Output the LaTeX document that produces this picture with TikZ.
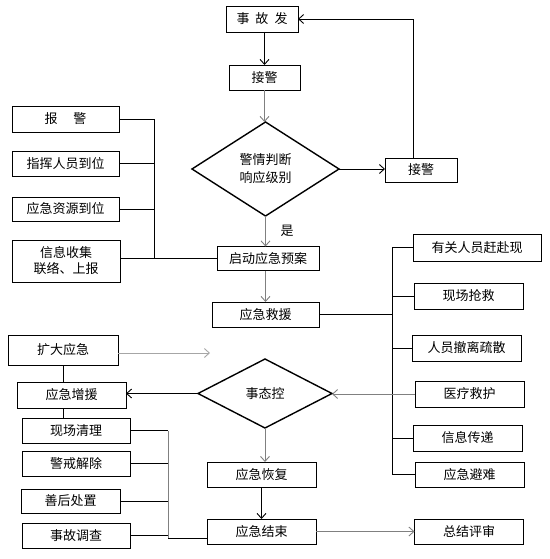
\documentclass[tikz,border=0pt]{standalone}
\usepackage{fontspec}
\newfontfamily\cjk{Noto Sans CJK SC}
\usetikzlibrary{shapes.geometric,arrows.meta}
\colorlet{linegray}{black!50}
\begin{document}
\begin{tikzpicture}[x=1pt, y=-1pt, line width=0.9pt,
                    main node/.style = {draw, rectangle, inner sep=0pt, outer sep=0pt, minimum height=26pt, minimum width=109pt, font=\cjk\fontsize{13}{16}\selectfont},
                    judge node/.style = {draw, diamond, inner sep=0pt, outer sep=0pt, line width=1.4pt, align=center, font=\cjk\fontsize{13}{18}\selectfont},
                    arrow/.style = {-{Straight Barb[length=5pt, width=9pt]}},
                    grey line/.style = {draw=linegray}]
                    \useasboundingbox (0, 0) rectangle (549, 559);
                    % main column
                    \node at (262, 19) [main node, minimum width=72pt] (accident) {事\hspace{6pt}故\hspace{6pt}发};
                    \node at (264.5, 77.5) [main node, minimum width=71pt, minimum height=25pt] (receive) {接警};
                    \node at (265.5, 169) [judge node, minimum width=147pt, minimum height=94pt] (judge) {警情判断\\响应级别};
                    \node at (421, 170) [main node, minimum width=72pt, minimum height=24pt] (receive2) {接警};
                    \node at (287, 231) [font=\cjk\fontsize{13}{16}\selectfont, inner sep=0pt] (yes) {是};
                    \node at (268, 258.5) [main node, minimum width=102pt, minimum height=24pt] (plan) {启动应急预案};
                    \node at (265.5, 314.5) [main node, minimum width=107pt, minimum height=25pt] (rescue) {应急救援};
                    \node at (265, 393.5) [judge node, minimum width=134pt, minimum height=69pt] (control) {事态控};
                    \node at (261.5, 474.5) [main node, minimum height=25pt] (recover) {应急恢复};
                    \node at (261.5, 531.5) [main node, minimum height=25pt] (finish) {应急结束};
                    \node at (469, 531.5) [main node, minimum height=25pt] (summary) {总结评审};

                    % left, upper
                    \node at (65.5, 119) [main node, minimum width=107pt] (report) {报\hspace{16pt}警};
                    \node at (65.5, 163.5) [main node, minimum width=107pt, minimum height=25pt] (command) {指挥人员到位};
                    \node at (65.5, 209) [main node, minimum width=107pt, minimum height=24pt] (resource) {应急资源到位};
                    \node at (66, 261) [main node, minimum width=108pt, minimum height=42pt, align=center] (info) {信息收集\\联络、上报};

                    % right column
                    \node at (477, 247.5) [main node, minimum width=128pt, minimum height=27pt] (arrive) {有关人员赶赴现};
                    \node at (468.5, 296) [main node] (firstaid) {现场抢救};
                    \node at (466.5, 348) [main node] (evacuate) {人员撤离疏散};
                    \node at (469.5, 394) [main node] (medical) {医疗救护};
                    \node at (467.5, 438) [main node] (message) {信息传递};
                    \node at (469.5, 474.5) [main node, minimum height=25pt] (shelter) {应急避难};

                    % left, lower
                    \node at (63, 350) [main node, minimum width=110pt, minimum height=30pt] (expand) {扩大应急};
                    \node at (71.5, 395) [main node] (reinforce) {应急增援};
                    \node at (76, 430.5) [main node, minimum width=108pt, minimum height=25pt] (cleanup) {现场清理};
                    \node at (76, 463.5) [main node, minimum width=108pt, minimum height=25pt] (lift) {警戒解除};
                    \node at (70.5, 501) [main node, minimum width=99pt, minimum height=24pt] (aftermath) {善后处置};
                    \node at (76, 535.5) [main node, minimum width=108pt, minimum height=25pt] (investigate) {事故调查};

                    \coordinate (lbar) at (154, 0);
                    \coordinate (rbar) at (392, 0);
                    \coordinate (loop) at (413, 0);
                    \coordinate (bend) at (168, 538);
                    \coordinate (expandtip) at (210, 353);

                    \draw [arrow] (accident.south -| receive) -- (receive.north);
                    \draw [arrow, grey line] (receive.south) -- (receive.south |- judge.north);
                    \draw [arrow] (judge.east) -- (judge.east -| receive2.west);
                    \draw [arrow] (receive2.north -| loop) |- (accident.east);
                    \draw [arrow, grey line] (judge.south) -- (judge.south |- plan.north);
                    \draw [arrow, grey line] (rescue.north |- plan.south) -- (rescue.north);

                    \draw (report.east) -| (lbar |- plan.west);
                    \draw (command.east) -- (command.east -| lbar);
                    \draw (resource.east) -- (resource.east -| lbar);
                    \draw (info.east |- plan.west) -- (plan.west);

                    \draw (arrive.west) -| (rbar |- shelter.west) -- (shelter.west);
                    \draw (rescue.east) -- (rescue.east -| rbar);
                    \draw (firstaid.west) -- (firstaid.west -| rbar);
                    \draw (evacuate.west) -- (evacuate.west -| rbar);
                    \draw (message.west) -- (message.west -| rbar);
                    \draw [arrow, grey line] (medical.west) -- (medical.west -| control.east);

                    \draw [arrow, draw=black!35] (expand.east |- expandtip) -- (expandtip);
                    \draw (expand.south) -- (expand.south |- reinforce.north);
                    \draw (expand.south |- reinforce.south) -- (expand.south |- cleanup.north);
                    \draw [arrow] (control.west) -- (control.west -| reinforce.east);
                    \draw [arrow, grey line] (control.south) -- (control.south |- recover.north);
                    \draw [arrow] (recover) -- (finish);
                    \draw [arrow, grey line] (finish) -- (summary);

                    \draw (cleanup.east) -- (cleanup.east -| bend);
                    \draw (lift.east) -- (lift.east -| bend);
                    \draw (aftermath.east) -- (aftermath.east -| bend);
                    \draw (investigate.east) -- (investigate.east -| bend);
                    \draw [grey line] (cleanup.east -| bend) -- (bend);
                    \draw (bend) -- (bend -| finish.west);
                \end{tikzpicture}
\end{document}
